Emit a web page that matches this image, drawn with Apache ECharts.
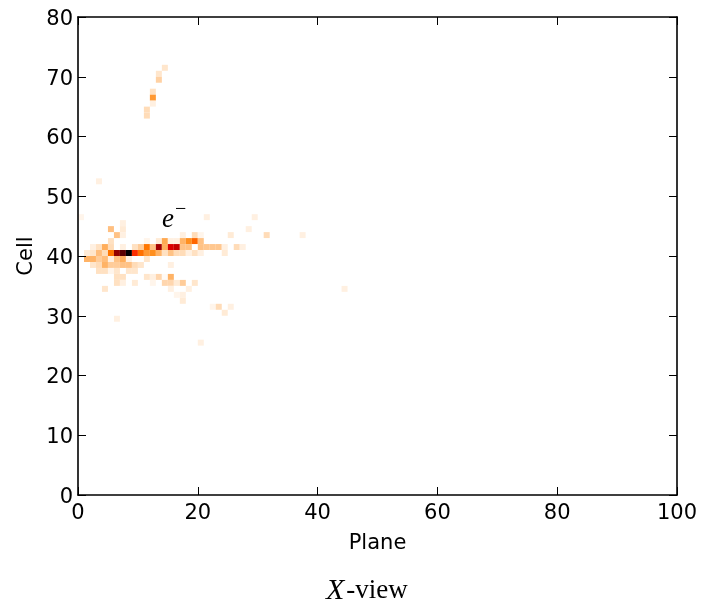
<!DOCTYPE html>
<html><head><meta charset="utf-8">
<style>html,body{margin:0;padding:0;background:#fff}#c{width:701px;height:607px}</style>
<script src="https://cdn.jsdelivr.net/npm/echarts@6/dist/echarts.min.js"></script>
</head><body><div id="c"></div>
<script>
const xTicks = [0, 20, 40, 60, 80, 100];
const yTicks = [0, 10, 20, 30, 40, 50, 60, 70, 80];
// cells: [plane, cell, intensity]
const upperTrack = [[14,71,.05],[13,70,.05],[13,69,.09],[12,67,.06],[12,66,.2],[12,65,.03],[11,64,.07],[11,63,.07]];
const sparse = [[3,52,.03],[0,46,.02],[7,45,.03],[21,46,.03],[29,46,.03],[28,44,.03],[5,44,.125],[7,44,.04],
  [6,43,.12],[7,43,.03],[17,43,.03],[19,43,.07],[20,43,.02],[25,43,.04],[31,43,.07],[37,43,.03],
  [44,34,.03],[20,25,.03],[6,29,.03],[22,31,.02],[23,31,.07],[25,31,.03],[24,30,.04]];
const row42 = [[5,42,.06],[11,42,.02],[13,42,.04],[14,42,.17],[15,42,.03],[16,42,.03],[17,42,.15],[18,42,.22],[19,42,.3],[20,42,.12]];
const row41 = [[2,41,.03],[3,41,.06],[4,41,.16],[5,41,.07],[7,41,.03],[9,41,.06],[10,41,.1],[11,41,.27],[12,41,.12],[13,41,.55],[14,41,.16],[15,41,.45],[16,41,.48],[17,41,.12],[18,41,.12],[20,41,.12],[21,41,.11],[22,41,.11],[23,41,.11],[24,41,.03],[26,41,.07],[27,41,.03]];
const row40 = [[1,40,.04],[2,40,.05],[3,40,.13],[4,40,.07],[5,40,.27],[6,40,.6],[7,40,.75],[8,40,1],[9,40,.36],[10,40,.28],[11,40,.2],[12,40,.22],[13,40,.15],[14,40,.06],[15,40,.12],[16,40,.07],[17,40,.07],[18,40,.03],[19,40,.06],[20,40,.03],[24,40,.04]];
const row39 = [[1,39,.15],[2,39,.15],[3,39,.1],[4,39,.13],[5,39,.03],[6,39,.12],[7,39,.16],[8,39,.03],[11,39,.05]];
const row38 = [[2,38,.05],[3,38,.07],[4,38,.15],[5,38,.1],[6,38,.1],[7,38,.12],[8,38,.12],[9,38,.07],[10,38,.05],[15,38,.03]];
const row37 = [[3,37,.06],[4,37,.06],[5,37,.02],[6,37,.05],[8,37,.05],[9,37,.05]];
const row36 = [[6,36,.06],[7,36,.06],[11,36,.05],[12,36,.03],[13,36,.08],[14,36,.01],[15,36,.15]];
const row35 = [[6,35,.06],[7,35,.03],[9,35,.04],[12,35,.02],[14,35,.08],[15,35,.08],[16,35,.04],[17,35,.1],[19,35,.05]];
const row34 = [[4,34,.05],[15,34,.03],[18,34,.03]];
const row33 = [[16,33,.02],[17,33,.03]];
const row32 = [[17,32,.04]];
const cells = [].concat(upperTrack, sparse, row42, row41, row40, row39, row38, row37, row36, row35, row34, row33, row32);
const rampColors = ['#ffffff','#fff2e6','#ffe6cc','#ffd9b3','#ffcc99','#ffbf80','#ffb366','#ffa64d','#ff9933','#ff8c1a','#ff8000','#ff6600','#ff3300','#ec1900','#da0000','#b60000','#920000','#6d0000','#490000','#240000','#000000'];
const rampStops = [0,.025,.05,.075,.1,.125,.15,.175,.2,.225,.25,.3,.35,.4,.45,.5,.6,.7,.8,.9,1];
function shade(v){
  for(let i=1;i<rampStops.length;i++){ if(v<=rampStops[i]){ 
    const t=(v-rampStops[i-1])/(rampStops[i]-rampStops[i-1]);
    const a=echarts.color.parse(rampColors[i-1]), b=echarts.color.parse(rampColors[i]);
    return 'rgb('+[0,1,2].map(k=>Math.round(a[k]+(b[k]-a[k])*t)).join(',')+')';
  }}
  return '#000';
}
const FONT='"DejaVu Sans"';
const lab={color:'#000',fontFamily:FONT,fontSize:21};
const tick={show:true,inside:true,length:8,lineStyle:{color:'#000',width:1}};
const line={show:true,onZero:false,lineStyle:{color:'#000',width:1.6}};
const chart=echarts.init(document.getElementById('c'),null,{renderer:'canvas'});
chart.setOption({
  animation:false,
  backgroundColor:'#fff',
  grid:{left:78,right:24,top:17,bottom:112,containLabel:false},
  xAxis:[
    {type:'value',min:0,max:100,interval:20,position:'bottom',z:5,name:'Plane',nameLocation:'middle',nameGap:38,
     nameTextStyle:Object.assign({},lab),axisLine:line,axisTick:tick,splitLine:{show:false},
     axisLabel:Object.assign({margin:8,showMinLabel:true,showMaxLabel:true},lab)},
    {type:'value',min:0,max:100,interval:20,position:'top',z:5,axisLine:line,axisTick:tick,axisLabel:{show:false},splitLine:{show:false}}
  ],
  yAxis:[
    {type:'value',min:0,max:80,interval:10,position:'left',z:5,name:'Cell',nameLocation:'middle',nameGap:41,nameMoveOverlap:false,
     nameTextStyle:Object.assign({},lab),axisLine:line,axisTick:tick,splitLine:{show:false},
     axisLabel:Object.assign({margin:5,verticalAlign:'top',lineHeight:5,showMinLabel:true,showMaxLabel:true},lab)},
    {type:'value',min:0,max:80,interval:10,position:'right',z:5,axisLine:line,axisTick:tick,axisLabel:{show:false},splitLine:{show:false}}
  ],
  series:[{
    type:'custom',coordinateSystem:'cartesian2d',clip:true,z:1,
    encode:{x:0,y:1},
    data:cells,
    renderItem:function(params,api){
      const p=api.coord([api.value(0),api.value(1)+1]);
      const s=api.size([1,1]);
      return {type:'rect',shape:{x:p[0],y:p[1],width:s[0],height:s[1]},style:{fill:shade(api.value(2))}};
    }
  }],
  graphic:[
    {type:'text',left:162,top:206,z:10,style:{text:'e',fill:'#000',font:'italic 27px "Liberation Serif"'}},
    {type:'text',left:175,top:200,z:10,style:{text:'\u2212',fill:'#000',font:'20px "Liberation Serif"'}},
    {type:'text',left:326,top:576,z:10,style:{rich:{i:{font:'italic 30px "Liberation Serif"',fill:'#000'},r:{font:'27px "Liberation Serif"',fill:'#000',padding:[0,0,0,2]}},text:'{i|X}{r|-view}'}}
  ]
});
</script></body></html>
